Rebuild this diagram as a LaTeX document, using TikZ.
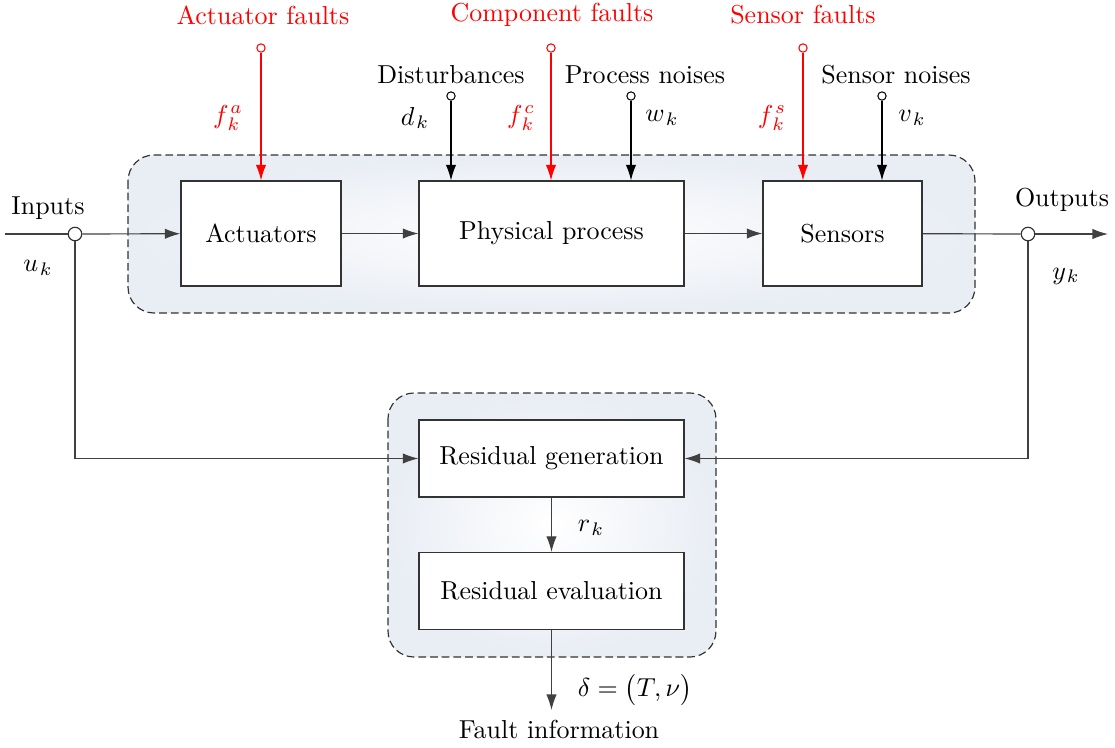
\documentclass[tikz,border=0pt]{standalone}
\usetikzlibrary{arrows.meta,positioning}
\newcommand{\sk}{\mskip1.5mu}
\begin{document}
\begin{tikzpicture}[x=0.385pt,y=-0.385pt,
  box/.style={draw=black!80,line width=0.5pt,fill=white,minimum height=40.4pt,font=\fontsize{10}{12}\selectfont},
  grp/.style={draw=black!80,line width=0.45pt,dash pattern=on 3pt off 1.5pt,rounded corners=10pt,inner color=white,outer color={rgb,255:red,233;green,237;blue,244}},
  arr/.style={draw=black!75,line width=0.45pt,-{Latex[length=6pt,width=4pt]}},
  redarr/.style={draw=red,line width=0.45pt,-{Latex[length=6pt,width=4pt]}},
  ln/.style={draw=black!75,line width=0.45pt},
  smc/.style={circle,draw,line width=0.4pt,fill=white,inner sep=0pt,minimum size=3.2pt},
  bigc/.style={circle,draw=black!80,line width=0.45pt,fill=white,inner sep=0pt,minimum size=5.2pt},
  lbl/.style={font=\fontsize{10}{12}\selectfont,inner sep=1pt},
  rlbl/.style={lbl,text=red}]
\useasboundingbox (0,0) rectangle (1115,747);
% groups
\path[grp] (128,155) rectangle (975,313);
\path[grp] (388,393) rectangle (716,657);
% boxes
\node[box,minimum width=61.6pt] (act) at (261,233.5) {Actuators};
\node[box,minimum width=102pt] (pp) at (551.5,233.5) {Physical process};
\node[box,minimum width=61.2pt] (sen) at (842.5,233.5) {Sensors};
\node[box,minimum width=102pt,minimum height=29.6pt] (rg) at (551.5,458.5) {Residual generation};
\node[box,minimum width=102pt,minimum height=29.6pt] (re) at (551.5,591) {Residual evaluation};
% input / output
\coordinate (inL) at (5,234);
\node[bigc] (inC) at (75,234) {};
\node[bigc] (outC) at (1028,234) {};
\coordinate (outR) at (1108,234);
\node[lbl] (inT) at (48,208) {Inputs};
\node[lbl] (uk) at (38,268) {$u_{\sk k}$};
\node[lbl] (outT) at (1062,200) {Outputs};
\node[lbl] (yk) at (1066,276) {$y_{\sk k}$};
\draw[ln] (inL) -- (inC);
\draw[arr] (inC) -- (act);
\draw[arr] (act) -- (pp);
\draw[arr] (pp) -- (sen);
\draw[ln] (sen) -- (outC);
\draw[arr] (outC) -- (outR);
\draw[arr] (inC) |- (rg);
\draw[arr] (outC) |- (rg);
\draw[arr] (rg) -- (re);
\node[lbl] (rk) at (591,528) {$r_{\sk k}$};
\coordinate (fo) at (551.5,710);
\draw[arr] (re) -- (fo);
\node[lbl] (dl) at (635,690) {$\delta = \bigl(T,\nu\bigr)$};
\node[lbl] (fi) at (559,729) {Fault information};
% faults
\node[rlbl] (aft) at (263,15) {Actuator faults};
\node[smc,draw=red] (ca) at (261,48) {};
\node[rlbl] (fa) at (228,118) {$f_{\sk k}^{\sk a}$};
\draw[redarr] (ca) -- (ca |- act.north);
\node[rlbl] (cft) at (552,15) {Component faults};
\node[smc,draw=red] (cc) at (551,48) {};
\node[rlbl] (fc) at (521,118) {$f_{\sk k}^{\sk c}$};
\draw[redarr] (cc) -- (cc |- pp.north);
\node[rlbl] (sft) at (803,15) {Sensor faults};
\node[smc,draw=red] (cs) at (803,48) {};
\node[rlbl] (fs) at (772,118) {$f_{\sk k}^{\sk s}$};
\draw[redarr] (cs) -- (cs |- sen.north);
% disturbances and noises
\node[lbl] (dt) at (451,75) {Disturbances};
\node[smc] (cd) at (451,96) {};
\node[lbl] (dk) at (415,118) {$d_{\sk k}$};
\draw[arr,draw=black] (cd) -- (cd |- pp.north);
\node[lbl] (pt) at (645,75) {Process noises};
\node[smc] (cw) at (631,96) {};
\node[lbl] (wk) at (662,118) {$w_{\sk k}$};
\draw[arr,draw=black] (cw) -- (cw |- pp.north);
\node[lbl] (st) at (896,75) {Sensor noises};
\node[smc] (cv) at (882,96) {};
\node[lbl] (vk) at (912,118) {$v_{\sk k}$};
\draw[arr,draw=black] (cv) -- (cv |- sen.north);
\end{tikzpicture}
\end{document}
